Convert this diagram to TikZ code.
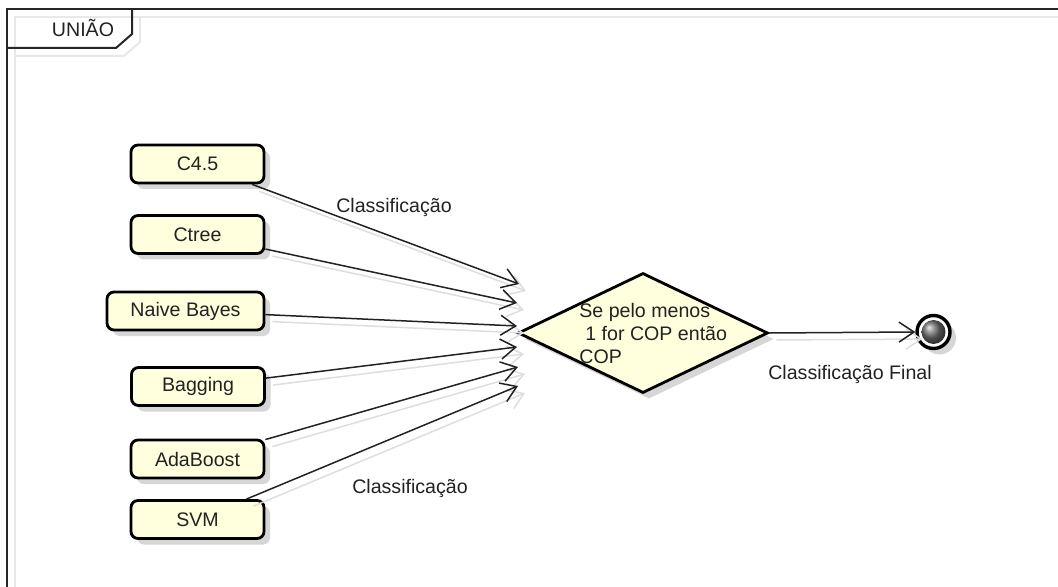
\documentclass[tikz,border=0pt]{standalone}
\usepackage{fontspec}
\setmainfont{Liberation Sans}
\usetikzlibrary{arrows.meta,shapes.geometric,shadows}
\definecolor{notefill}{RGB}{255,255,221}
\definecolor{ink}{RGB}{34,34,34}
\begin{document}
\begin{tikzpicture}[x=0.5pt,y=-0.5pt,
  font=\fontsize{9.8}{11.5}\selectfont,
  every node/.style={text=ink},
  softshadow/.style={drop shadow={shadow xshift=3pt,shadow yshift=-3pt,fill=black!16,opacity=1}},
  algbox/.style={draw=black,line width=1.4pt,rounded corners=3.5pt,fill=notefill,
    minimum height=19pt,minimum width=66.5pt,inner sep=0pt,softshadow},
  decision/.style={diamond,draw=black,line width=1.4pt,fill=notefill,
    minimum width=125pt,minimum height=60pt,inner sep=0pt,softshadow},
  finalring/.style={circle,draw=black,line width=1.7pt,fill=white,
    minimum size=16.5pt,inner sep=0pt,softshadow},
  finalball/.style={circle,minimum size=12pt,inner sep=0pt,shading=ball,ball color=black!55},
  flow/.style={draw=ink,line width=0.75pt,-{Straight Barb[length=7.5pt,width=10pt]}},
  flowshadow/.style={draw=black!13,line width=0.75pt,-{Straight Barb[length=7.5pt,width=10pt]}},
  framel/.style={draw=black!85,line width=1pt},
  frameshadow/.style={draw=black!9,line width=1pt}]

\useasboundingbox[fill=white] (0,0) rectangle (1058,587);

% frame with its name tab
\begin{scope}
  \clip (0,0) rectangle (1058,587);
  \draw[frameshadow] (1070,17) -- (15,17) -- (15,600);
  \draw[frameshadow] (15,56) -- (124,56) -- (140,42) -- (140,17);
  \draw[framel] (1070,9) -- (7,9) -- (7,600);
  \draw[framel] (7,48) -- (116,48) -- (132,34) -- (132,9);
\end{scope}
\node[anchor=base] (title) at (83,37) {UNIÃO};

% classifiers
\node[algbox] (c45)   at (197.5,164)   {C4.5};
\node[algbox] (ctree) at (197.5,234.5) {Ctree};
\node[algbox,minimum width=78.5pt] (nb) at (185.5,311) {Naive Bayes};
\node[algbox] (bag)   at (198,386.5)   {Bagging};
\node[algbox] (ada)   at (197.5,459)   {AdaBoost};
\node[algbox] (svm)   at (197.5,519.5) {SVM};

% decision and final state
\node[decision] (dec) at (643,333) {};
\node[anchor=west,align=left,inner sep=0pt] (dectext) at (579,333)
  {Se pelo menos\\\hspace*{3pt}1 for COP então\\COP};
\node[finalring] (fin) at (933.5,332) {};
\node[finalball] (finin) at (fin) {};

% arrival points of the incoming flows
\coordinate (t1) at (519,284);
\coordinate (t2) at (517,303);
\coordinate (t3) at (517,326);
\coordinate (t4) at (517,347);
\coordinate (t5) at (518,367);
\coordinate (t6) at (518,386);

% flow shadows
\begin{scope}[transform canvas={shift={(3.5pt,-3.5pt)}}]
  \draw[flowshadow] (c45) -- (t1);
  \draw[flowshadow] (ctree) -- (t2);
  \draw[flowshadow] (nb) -- (t3);
  \draw[flowshadow] (bag) -- (t4);
  \draw[flowshadow] (ada) -- (t5);
  \draw[flowshadow] (svm) -- (t6);
  \draw[flowshadow] (dec.east) -- (fin.west);
\end{scope}

% flows
\draw[flow] (c45) -- (t1);
\draw[flow] (ctree) -- (t2);
\draw[flow] (nb) -- (t3);
\draw[flow] (bag) -- (t4);
\draw[flow] (ada) -- (t5);
\draw[flow] (svm) -- (t6);
\draw[flow] (dec.east) -- (fin.west);

% flow labels
\node[anchor=base] (lab1) at (394,213) {Classificação};
\node[anchor=base] (lab2) at (410,493) {Classificação};
\node[anchor=base] (lab3) at (850,379) {Classificação Final};
\end{tikzpicture}
\end{document}
